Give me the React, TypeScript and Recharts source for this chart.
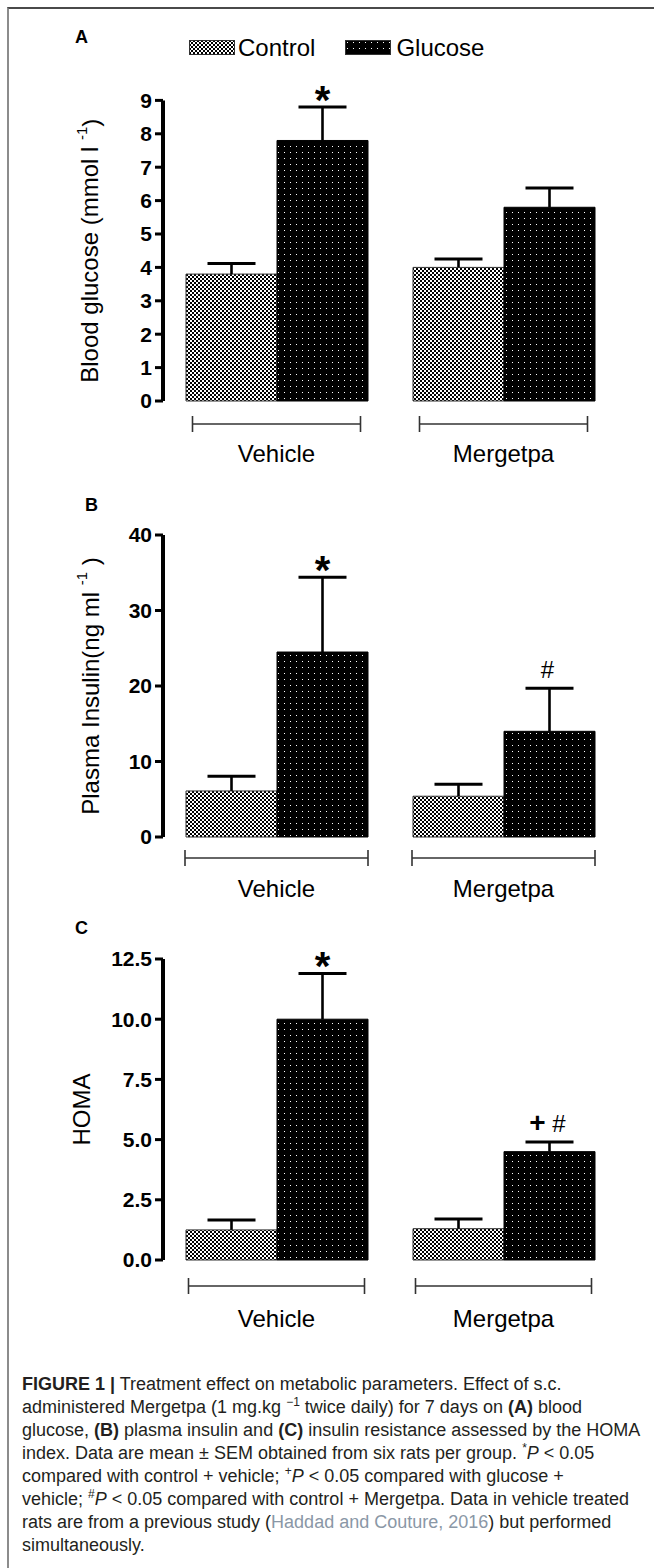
import React from 'react';
import { BarChart, Bar, XAxis, YAxis, Legend, LabelList } from 'recharts';

const FONT = '"Liberation Sans", Arial, Helvetica, sans-serif';

// categories
const groups = ['Vehicle', 'Mergetpa'];

// Panel A: blood glucose (mmol/l)
const bgControl = [3.8, 4.0];
const bgControlSem = [0.32, 0.25];
const bgGlucose = [7.8, 5.8];
const bgGlucoseSem = [1.0, 0.58];
const bgMarks = ['*', ''];
const bgTicks = [0, 1, 2, 3, 4, 5, 6, 7, 8, 9];

// Panel B: plasma insulin (ng/ml)
const insControl = [6.1, 5.4];
const insControlSem = [1.95, 1.6];
const insGlucose = [24.5, 14.0];
const insGlucoseSem = [9.9, 5.7];
const insMarks = ['*', '#'];
const insTicks = [0, 10, 20, 30, 40];

// Panel C: HOMA
const homaControl = [1.25, 1.3];
const homaControlSem = [0.41, 0.4];
const homaGlucose = [10.0, 4.5];
const homaGlucoseSem = [1.9, 0.4];
const homaMarks = ['*', '+ #'];
const homaTicks = [0, 2.5, 5, 7.5, 10, 12.5];

function buildRows(ctrl: number[], ctrlSem: number[], glu: number[], gluSem: number[], marks: string[]) {
  return groups.map((g, i) => ({
    group: g,
    control: ctrl[i],
    controlSem: ctrlSem[i],
    glucose: glu[i],
    glucoseSem: gluSem[i],
    mark: marks[i],
  }));
}

const rowsA = buildRows(bgControl, bgControlSem, bgGlucose, bgGlucoseSem, bgMarks);
const rowsB = buildRows(insControl, insControlSem, insGlucose, insGlucoseSem, insMarks);
const rowsC = buildRows(homaControl, homaControlSem, homaGlucose, homaGlucoseSem, homaMarks);

const Whisker = (props: any) => {
  const { x, y, width, height } = props;
  if (x == null || y == null) return null;
  const cx = x + width / 2;
  const cap = 48;
  return (
    <g>
      <line x1={cx} x2={cx} y1={y} y2={y + height} stroke="#000" strokeWidth={2.6} />
      <line x1={cx - cap / 2} x2={cx + cap / 2} y1={y} y2={y} stroke="#000" strokeWidth={3} />
    </g>
  );
};

const MarkLabel = (props: any) => {
  const { x, y, width, value } = props;
  if (!value) return null;
  const cx = x + width / 2;
  if (value === '*') {
    return (
      <text x={cx} y={y + 7} textAnchor="middle" fontSize={40} fontWeight={700} fontFamily={FONT} fill="#000">
        *
      </text>
    );
  }
  const parts = String(value).split(' ');
  return (
    <text x={cx - 2} y={y - 10} textAnchor="middle" fontSize={24} fontFamily={FONT} fill="#000">
      {parts.map((p, i) => (
        <tspan key={i} fontWeight={p === '+' ? 700 : 400} fontSize={p === '+' ? 28 : 24}>
          {(i ? ' ' : '') + p}
        </tspan>
      ))}
    </text>
  );
};

const GroupTick = (props: any) => {
  const { x, y, payload, half, lineOff, textOff } = props;
  const ly = y + lineOff;
  return (
    <g>
      <line x1={x - half} x2={x + half} y1={ly} y2={ly} stroke="#333" strokeWidth={1.6} />
      <line x1={x - half} x2={x - half} y1={ly - 8} y2={ly + 8} stroke="#333" strokeWidth={1.6} />
      <line x1={x + half} x2={x + half} y1={ly - 8} y2={ly + 8} stroke="#333" strokeWidth={1.6} />
      <text x={x} y={y + textOff} textAnchor="middle" dominantBaseline="central" fontSize={24} fontFamily={FONT} fill="#000">
        {payload.value}
      </text>
    </g>
  );
};

const YTitle = (props: any) => {
  const { viewBox, main, sup, tail, dist } = props;
  const { x, y, width, height } = viewBox;
  const cx = x + width - dist;
  const cy = y + height / 2;
  return (
    <text
      transform={`rotate(-90 ${cx} ${cy})`}
      x={cx}
      y={cy}
      textAnchor="middle"
      dominantBaseline="central"
      fontSize={24}
      fontFamily={FONT}
      fill="#000"
    >
      {main}
      {sup ? (
        <tspan dy={-9} fontSize={15}>
          {sup}
        </tspan>
      ) : null}
      {tail ? <tspan dy={9}>{tail}</tspan> : null}
    </text>
  );
};

const LegendBox = (props: any) => {
  const payload = (props.payload || []).filter((e: any) => e.type !== 'none');
  return (
    <div style={{ display: 'flex', alignItems: 'center', fontFamily: FONT, fontSize: 24, lineHeight: '24px', color: '#000', whiteSpace: 'nowrap' }}>
      {payload.map((e: any, i: number) => (
        <div key={i} style={{ display: 'flex', alignItems: 'center', marginLeft: i ? 30 : 0 }}>
          <svg width={46} height={15} style={{ display: 'block', marginRight: i ? 5 : 3 }}>
            <rect x={0.5} y={0.5} width={45} height={14} fill={e.color} stroke="#333" strokeWidth={1} />
          </svg>
          <span>{e.value}</span>
        </div>
      ))}
    </div>
  );
};

function Panel(props: any) {
  const { rows, ticks, top, height, marginTop, fmt, title, titleDist, half, lineOff, textOff, showLegend } = props;
  return (
    <div style={{ position: 'absolute', left: 0, top }}>
      <BarChart
        width={654}
        height={height}
        data={rows}
        margin={{ top: marginTop, right: 37, bottom: 0, left: 103 }}
        barCategoryGap={23}
        barGap={0}
      >
        <XAxis
          dataKey="group"
          axisLine={false}
          tickLine={false}
          tickSize={0}
          tickMargin={0}
          height={75}
          interval={0}
          tick={(p: any) => <GroupTick {...p} half={half} lineOff={lineOff} textOff={textOff} />}
        />
        <YAxis
          width={60}
          domain={[ticks[0], ticks[ticks.length - 1]]}
          ticks={ticks}
          interval={0}
          tickFormatter={fmt}
          axisLine={{ stroke: '#000', strokeWidth: 4 }}
          tickLine={{ stroke: '#000', strokeWidth: 3 }}
          tickSize={8}
          tickMargin={3}
          tick={{ fill: '#000', fontSize: 21, fontWeight: 700, fontFamily: FONT }}
          label={(p: any) => <YTitle {...p} main={title[0]} sup={title[1]} tail={title[2]} dist={titleDist} />}
        />
        {showLegend ? (
          <Legend
            layout="vertical"
            align="center"
            verticalAlign="middle"
            wrapperStyle={{ top: 35.5, left: 189, width: 'auto', height: 'auto' }}
            content={(p: any) => <LegendBox {...p} />}
          />
        ) : null}
        <Bar dataKey="control" name="Control" stackId="c" fill="url(#chk)" stroke="#333" strokeWidth={1} isAnimationActive={false} />
        <Bar dataKey="controlSem" name="controlSem" stackId="c" legendType="none" shape={Whisker} isAnimationActive={false} />
        <Bar dataKey="glucose" name="Glucose" stackId="g" fill="url(#dots)" stroke="#000" strokeWidth={1} isAnimationActive={false} />
        <Bar dataKey="glucoseSem" name="glucoseSem" stackId="g" legendType="none" shape={Whisker} isAnimationActive={false}>
          <LabelList dataKey="mark" content={MarkLabel} />
        </Bar>
      </BarChart>
    </div>
  );
}

const letterStyle: React.CSSProperties = {
  position: 'absolute',
  fontFamily: FONT,
  fontWeight: 700,
  fontSize: 18,
  lineHeight: '18px',
  color: '#000',
};

const capStyle: React.CSSProperties = {
  whiteSpace: 'nowrap',
  height: 23,
  lineHeight: '23px',
};

const supStyle: React.CSSProperties = { fontSize: 12, lineHeight: 0, verticalAlign: 'super' };

export default function App() {
  return (
    <div style={{ position: 'relative', width: 654, height: 1568, overflow: 'hidden', background: '#fff' }}>
      <style>{'html,body{margin:0;padding:0;overflow:hidden;background:#fff}'}</style>
      <svg width={0} height={0} style={{ position: 'absolute' }}>
        <defs>
          <pattern id="chk" width={4} height={4} patternUnits="userSpaceOnUse">
            <rect width={4} height={4} fill="#fff" />
            <rect width={2} height={2} fill="#000" />
            <rect x={2} y={2} width={2} height={2} fill="#000" />
          </pattern>
          <pattern id="dots" width={6} height={6} patternUnits="userSpaceOnUse">
            <rect width={6} height={6} fill="#000" />
            <rect x={2} y={2} width={1} height={1} fill="#fff" />
          </pattern>
        </defs>
      </svg>

      <div
        style={{
          position: 'absolute',
          left: 7,
          top: 7,
          width: 700,
          height: 1600,
          borderTop: '2px solid #4a4a4a',
          borderLeft: '2px solid #8c8c8c',
          boxSizing: 'border-box',
          pointerEvents: 'none',
        }}
      />

      <div style={{ ...letterStyle, left: 75, top: 28 }}>A</div>
      <div style={{ ...letterStyle, left: 85, top: 496 }}>B</div>
      <div style={{ ...letterStyle, left: 75, top: 919 }}>C</div>

      <Panel
        rows={rowsA}
        ticks={bgTicks}
        top={0}
        height={476}
        marginTop={100.4}
        fmt={(v: number) => String(v)}
        title={['Blood glucose (mmol l ', '-1', ')']}
        titleDist={73}
        half={84}
        lineOff={23}
        textOff={52}
        showLegend
      />
      <Panel
        rows={rowsB}
        ticks={insTicks}
        top={515}
        height={397}
        marginTop={20}
        fmt={(v: number) => String(v)}
        title={['Plasma Insulin(ng ml ', '-1', ' )']}
        titleDist={73}
        half={91.5}
        lineOff={21}
        textOff={51}
      />
      <Panel
        rows={rowsC}
        ticks={homaTicks}
        top={925}
        height={410}
        marginTop={34}
        fmt={(v: number) => v.toFixed(1)}
        title={['HOMA', '', '']}
        titleDist={82}
        half={88}
        lineOff={26}
        textOff={58}
      />

      <div style={{ position: 'absolute', left: 22, top: 1373, fontFamily: FONT, fontSize: 18, color: '#231f20' }}>
        <div style={capStyle}>
          <b>FIGURE 1 |</b> Treatment effect on metabolic parameters. Effect of s.c.
        </div>
        <div style={capStyle}>
          administered Mergetpa (1 mg.kg <span style={supStyle}>−1</span> twice daily) for 7 days on <b>(A)</b> blood
        </div>
        <div style={capStyle}>
          glucose, <b>(B)</b> plasma insulin and <b>(C)</b> insulin resistance assessed by the HOMA
        </div>
        <div style={capStyle}>
          index. Data are mean ± SEM obtained from six rats per group. <span style={supStyle}>*</span>
          <i>P</i> &lt; 0.05
        </div>
        <div style={capStyle}>
          compared with control + vehicle; <span style={supStyle}>+</span>
          <i>P</i> &lt; 0.05 compared with glucose +
        </div>
        <div style={capStyle}>
          vehicle; <span style={supStyle}>#</span>
          <i>P</i> &lt; 0.05 compared with control + Mergetpa. Data in vehicle treated
        </div>
        <div style={capStyle}>
          rats are from a previous study (<span style={{ color: '#8a97a6' }}>Haddad and Couture, 2016</span>) but performed
        </div>
        <div style={capStyle}>simultaneously.</div>
      </div>
    </div>
  );
}
